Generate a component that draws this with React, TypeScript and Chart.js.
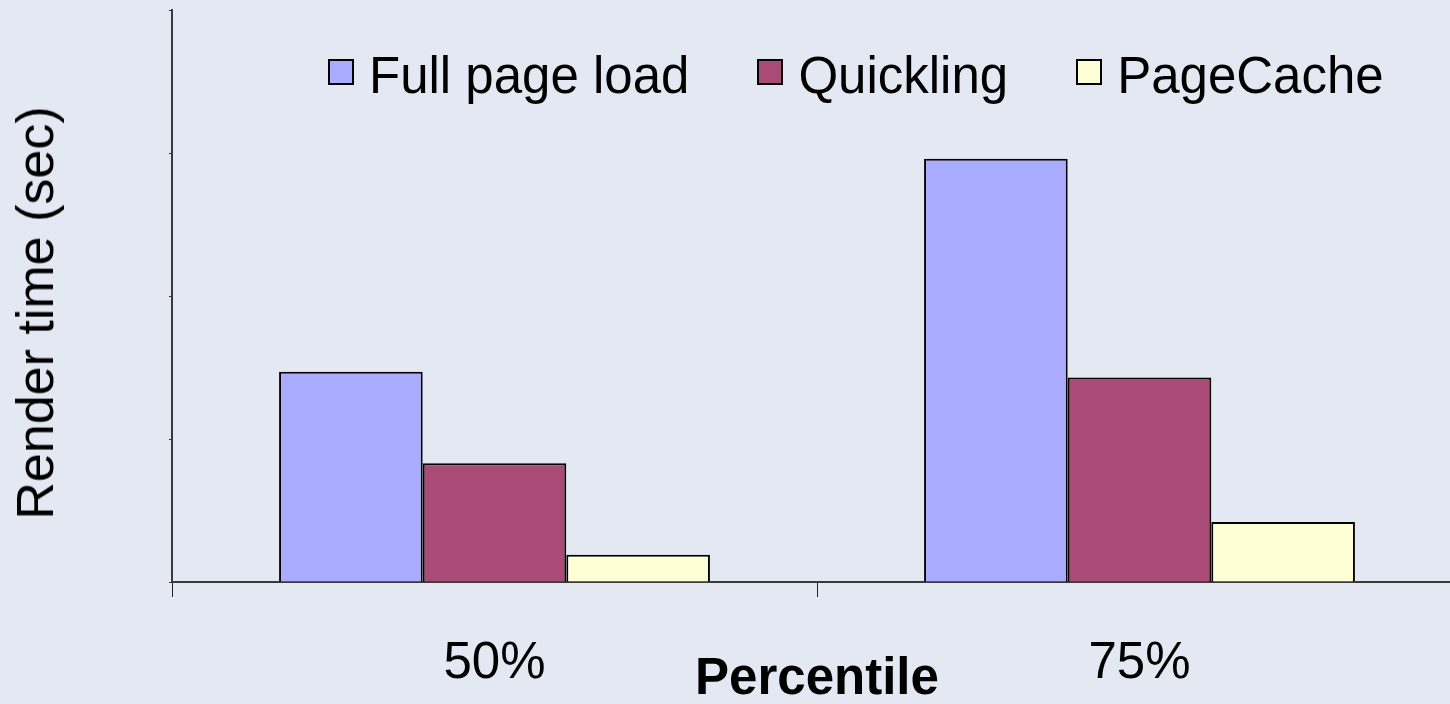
import React, { useEffect, useRef } from 'react';
import { Chart, registerables } from 'chart.js';

Chart.register(...registerables);

const categories = ['50%', '75%'];
const seriesNames = ['Full page load', 'Quickling', 'PageCache'];
const fullPageLoad = [1.47, 2.96];
const quickling = [0.83, 1.43];
const pageCache = [0.19, 0.42];
const seriesColors = ['#AAADFF', '#A94A77', '#FFFFD5'];
const yMin = 0;
const yMax = 4;
const yStep = 1;
const xTitle = 'Percentile';
const yTitle = 'Render time (sec)';

const FONT = '"Liberation Sans", Arial, sans-serif';
const BG = '#E4E8F2';

export default function App() {
  const ref = useRef<HTMLCanvasElement>(null);

  useEffect(() => {
    const values = [fullPageLoad, quickling, pageCache];
    const chart = new Chart(ref.current as HTMLCanvasElement, {
      type: 'bar',
      data: {
        labels: categories,
        datasets: seriesNames.map((name, i) => ({
          label: name,
          data: values[i],
          backgroundColor: seriesColors[i],
          borderColor: '#000000',
          borderWidth: 2,
          categoryPercentage: 0.668,
          barPercentage: 1,
        })),
      },
      options: {
        responsive: false,
        animation: false,
        devicePixelRatio: 1,
        layout: { padding: { top: 10, left: 169, right: 8, bottom: 0 } },
        plugins: {
          legend: { display: false },
          tooltip: { enabled: false },
        },
        scales: {
          x: {
            grid: {
              display: true,
              drawOnChartArea: false,
              drawTicks: true,
              tickLength: 15,
              color: '#222222',
              lineWidth: 1,
              offset: true,
            },
            border: { display: true, color: '#3a3a3a', width: 2 },
            ticks: {
              color: '#000000',
              font: { family: FONT, size: 51 },
              padding: 36,
              maxRotation: 0,
            },
            title: {
              display: true,
              text: xTitle,
              color: '#000000',
              font: { family: FONT, size: 51, weight: 'bold' },
              padding: { top: -80.8, bottom: -6.6 },
            },
          },
          y: {
            min: yMin,
            max: yMax,
            ticks: { display: false, stepSize: yStep },
            grid: {
              drawOnChartArea: false,
              drawTicks: true,
              tickLength: 3,
              color: '#333333',
              lineWidth: 1,
            },
            border: { display: true, color: '#3a3a3a', width: 2 },
            title: { display: false },
          },
        },
      },
    });
    return () => chart.destroy();
  }, []);

  return (
    <div
      style={{
        position: 'fixed',
        left: 0,
        top: 0,
        width: 1450,
        height: 704,
        overflow: 'hidden',
        background: BG,
      }}
    >
      <canvas ref={ref} width={1470} height={704} style={{ display: 'block' }} />
      <div
        style={{
          position: 'absolute',
          left: 34.5,
          top: 313,
          transform: 'translate(-50%, -50%) rotate(-90deg)',
          fontFamily: FONT,
          fontSize: 52,
          lineHeight: '60px',
          color: '#000',
          whiteSpace: 'nowrap',
        }}
      >
        {yTitle}
      </div>
      <div
        style={{
          position: 'absolute',
          left: 328,
          top: 46,
          display: 'flex',
          fontFamily: FONT,
          fontSize: 51,
          lineHeight: '60px',
          color: '#000',
          whiteSpace: 'nowrap',
        }}
      >
        {seriesNames.map((n, i) => (
          <div
            key={n}
            style={{ display: 'flex', alignItems: 'flex-start', marginRight: i < seriesNames.length - 1 ? 68 : 0 }}
          >
            <span
              style={{
                width: 26,
                height: 26,
                boxSizing: 'border-box',
                border: '2px solid #000',
                background: seriesColors[i],
                marginTop: 13,
                marginRight: 15,
                flex: 'none',
              }}
            />
            <span>{n}</span>
          </div>
        ))}
      </div>
    </div>
  );
}
